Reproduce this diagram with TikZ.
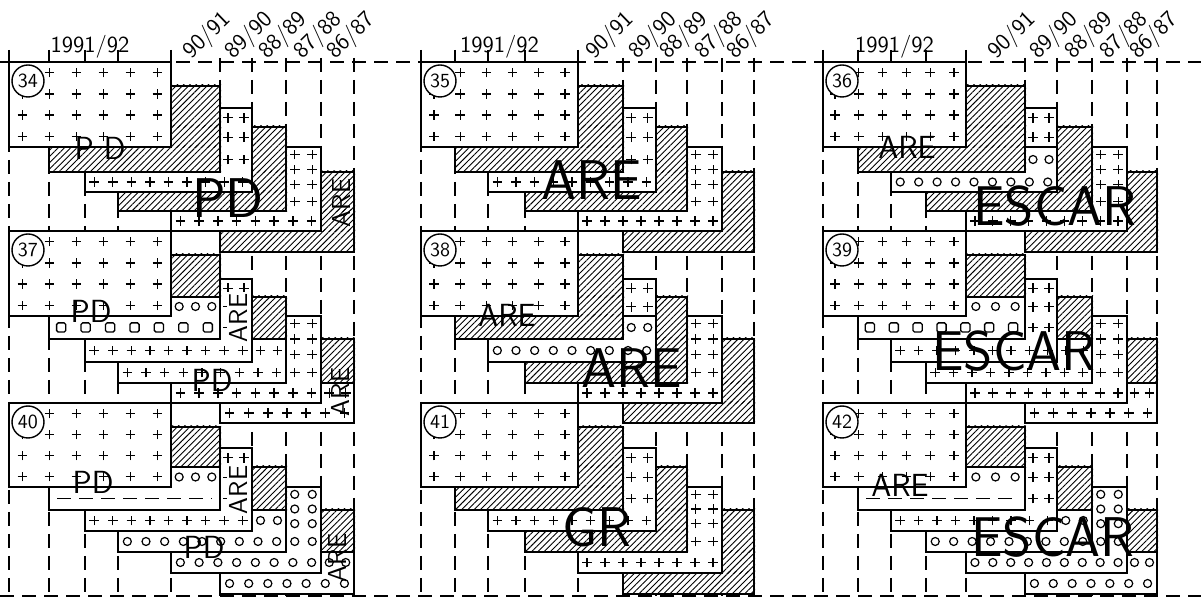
\documentclass[tikz,border=0pt]{standalone}
\usepackage{tikz}
\usetikzlibrary{patterns.meta}
\tikzset{edge/.style={line width=1.4pt},guide/.style={line width=.6pt,dash pattern=on 7pt off 4pt},dashrow/.style={line width=.8pt,dash pattern=on 7pt off 4pt},hatch/.style={pattern={Lines[angle=45,distance=2.2pt,line width=.45pt]}},num/.style={circle,draw,line width=.7pt,fill=white,minimum size=16pt,inner sep=0pt,font=\sffamily\fontsize{10}{10}\selectfont},year/.style={inner sep=0pt,font=\sffamily\fontsize{11.5}{11.5}\selectfont},bigtag/.style={inner sep=0pt,font=\sffamily\fontsize{28}{28}\selectfont},midtag/.style={inner sep=0pt,font=\sffamily\fontsize{16}{16}\selectfont},sidetag/.style={inner sep=0pt,rotate=90,font=\sffamily\fontsize{13}{13}\selectfont},plus/.pic={\draw[line width=.65pt] (-2.4pt,0)--(2.4pt,0) (0,-2.4pt)--(0,2.4pt);},ring/.pic={\draw[line width=.6pt] (0,0) circle[radius=2pt];},box/.pic={\draw[line width=.65pt,rounded corners=.8pt] (-2.3pt,-2.3pt) rectangle (2.3pt,2.3pt);}}
\def\colL{9,49,85,118,171,220,252,286,321,354}
\def\colM{421,455,488,525,578,623,656,687,722,754}
\def\colR{823,858,891,926,966,1025,1057,1092,1127,1157}
\def\rowA{62,86,108,127,147,172,192,211,231,252}
\def\rowB{231,255,279,297,316,339,362,383,403,423}
\def\rowC{403,427,448,467,487,510,531,552,573,594}
\newcommand\setcol[1]{\foreach \v [count=\n from 0] in #1 {\expandafter\xdef\csname gx\n\endcsname{\v}}}
\newcommand\setrow[1]{\foreach \v [count=\n from 0] in #1 {\expandafter\xdef\csname gy\n\endcsname{\v}}}
\newcommand\X[1]{\csname gx\the\numexpr#1\relax\endcsname}
\newcommand\Y[1]{\csname gy\the\numexpr#1\relax\endcsname}
\newcommand\strew[7]{\pgfmathtruncatemacro\nx{max(1,round((#4-(#2))/#6))}\pgfmathtruncatemacro\ny{max(1,round((#5-(#3))/#7))}\foreach \i in {1,...,\nx}{\foreach \j in {1,...,\ny}{\pic at ({#2+(\i-.5)*(#4-(#2))/\nx},{#3+(\j-.5)*(#5-(#3))/\ny}) {#1};}}}
\newcommand\kindhatch[4]{\fill[hatch] ({#1-1},{#2-1}) rectangle ({#3+1},{#4+1});}
\newcommand\kindplus[4]{\strew{plus}{#1}{#2}{#3}{#4}{18}{17}}
\newcommand\kindring[4]{\strew{ring}{#1}{#2}{#3}{#4}{18}{17}}
\newcommand\kindbox[4]{\strew{box}{#1}{#2}{#3}{#4}{23}{17}}
\newcommand\kinddash[4]{\draw[dashrow] ({#1+8},{(#2+#4)/2}) -- ({#3-8},{(#2+#4)/2});}
\newcommand\lay[4]{\fill[white] (\X{#1},\Y{#1}) rectangle (\X{#1+4},\Y{#1+4});
  \csname kind#2\endcsname{\X{#1+3}}{\Y{#1}}{\X{#1+4}}{\Y{#1+2}}\csname kind#3\endcsname{\X{#1+3}}{\Y{#1+2}}{\X{#1+4}}{\Y{#1+3}}\csname kind#4\endcsname{\X{#1}}{\Y{#1+3}}{\X{#1+4}}{\Y{#1+4}}
  \draw[edge] (\X{#1},\Y{#1}) rectangle (\X{#1+4},\Y{#1+4});
  \def\ka{#2}\def\kb{#3}\ifx\ka\kb\else\draw[edge] (\X{#1+3},\Y{#1+2}) -- (\X{#1+4},\Y{#1+2});\fi}
\newcommand\front[1]{\fill[white] (\X{0},\Y{0}) rectangle (\X{4},\Y{4});
  \strew{plus}{\X{0}}{\Y{0}}{\X{4}}{\Y{4}}{26}{21}
  \draw[edge] (\X{0},\Y{0}) rectangle (\X{4},\Y{4});
  \node[num] (n#1) at ({\X{0}+19},{\Y{0}+19}) {#1};}
\newcommand\heads[1]{\node[year] (h#1) at ({(\X{0}+\X{4})/2},47) {1991/92};
  \foreach \k in {0,...,4}{\pgfmathtruncatemacro\ya{90-\k}\pgfmathtruncatemacro\yb{91-\k}\pgfmathsetmacro\yoff{\k==0 ? 29 : 19}
    \node[year,anchor=base west,rotate=44] (h#1\k) at ({\X{5+\k}-\yoff},60) {\ya/\yb};}}
\begin{document}
\begin{tikzpicture}[x=.5pt,y=-.5pt]
\useasboundingbox (0,0) rectangle (1201,598);
\foreach \x in {9,49,85,118,171,421,455,488,525,578,823,858,891,926,966} \draw[guide] (\x,50) -- (\x,596);
\foreach \x in {220,252,286,321,354,623,656,687,722,754,1025,1057,1092,1127,1157} \draw[guide] (\x,58) -- (\x,596);
\draw[guide] (0,62) -- (1201,62) (0,596) -- (1201,596);
\setrow\rowA
\setcol\colL\heads{L}\setcol\colM\heads{M}\setcol\colR\heads{R}
% top row
\setcol\colL
\lay{5}{hatch}{hatch}{hatch}\lay{4}{plus}{plus}{plus}\lay{3}{hatch}{hatch}{hatch}\lay{2}{plus}{plus}{plus}\lay{1}{hatch}{hatch}{hatch}\front{34}
\node[midtag] (t34a) at (100,148) {P D};
\node[bigtag] (t34b) at (228,198) {PD};
\node[sidetag] (t34c) at (341,203) {ARE};
\setcol\colM
\lay{5}{hatch}{hatch}{hatch}\lay{4}{plus}{plus}{plus}\lay{3}{hatch}{hatch}{hatch}\lay{2}{plus}{plus}{plus}\lay{1}{hatch}{hatch}{hatch}\front{35}
\node[bigtag] (t35a) at (592,180) {ARE};
\setcol\colR
\lay{5}{hatch}{hatch}{hatch}\lay{4}{plus}{plus}{plus}\lay{3}{hatch}{hatch}{hatch}\lay{2}{plus}{ring}{ring}\lay{1}{hatch}{hatch}{hatch}\front{36}
\node[midtag] (t36a) at (907,147) {ARE};
\node[bigtag] (t36b) at (1055,206) {ESCAR};
% middle row
\setrow\rowB\setcol\colL
\lay{5}{hatch}{plus}{plus}\lay{4}{plus}{plus}{plus}\lay{3}{hatch}{plus}{plus}\lay{2}{plus}{plus}{plus}\lay{1}{hatch}{ring}{box}\front{37}
\node[midtag] (t37a) at (91,311) {PD};
\node[sidetag,fill=white,inner sep=1pt] (t37b) at (238,318) {ARE};
\node[midtag] (t37c) at (212,380) {PD};
\node[sidetag] (t37d) at (340,392) {ARE};
\setcol\colM
\lay{5}{hatch}{hatch}{hatch}\lay{4}{plus}{plus}{plus}\lay{3}{hatch}{hatch}{hatch}\lay{2}{plus}{ring}{ring}\lay{1}{hatch}{hatch}{hatch}\front{38}
\node[midtag] (t38a) at (507,315) {ARE};
\node[bigtag] (t38b) at (632,368) {ARE};
\setcol\colR
\lay{5}{hatch}{plus}{plus}\lay{4}{plus}{plus}{plus}\lay{3}{hatch}{plus}{plus}\lay{2}{plus}{plus}{plus}\lay{1}{hatch}{ring}{box}\front{39}
\node[bigtag] (t39a) at (1014,351) {ESCAR};
% bottom row
\setrow\rowC\setcol\colL
\lay{5}{hatch}{ring}{ring}\lay{4}{ring}{ring}{ring}\lay{3}{hatch}{ring}{ring}\lay{2}{plus}{plus}{plus}\lay{1}{hatch}{ring}{dash}\front{40}
\node[midtag] (t40a) at (93,482) {PD};
\node[sidetag,fill=white,inner sep=1pt] (t40b) at (238,490) {ARE};
\node[midtag] (t40c) at (204,547) {PD};
\node[sidetag] (t40d) at (337,558) {ARE};
\setcol\colM
\lay{5}{hatch}{hatch}{hatch}\lay{4}{plus}{plus}{plus}\lay{3}{hatch}{hatch}{hatch}\lay{2}{plus}{plus}{plus}\lay{1}{hatch}{hatch}{hatch}\front{41}
\node[bigtag] (t41a) at (597,527) {GR};
\setcol\colR
\lay{5}{hatch}{ring}{ring}\lay{4}{ring}{ring}{ring}\lay{3}{hatch}{ring}{ring}\lay{2}{plus}{plus}{plus}\lay{1}{hatch}{ring}{dash}\front{42}
\node[midtag] (t42a) at (900,485) {ARE};
\node[bigtag] (t42b) at (1053,537) {ESCAR};
\end{tikzpicture}
\end{document}
